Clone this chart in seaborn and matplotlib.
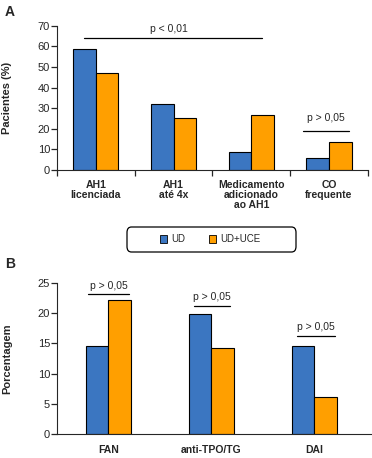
import matplotlib.pyplot as plt
from matplotlib.patches import FancyBboxPatch, Patch
import numpy as np
import pandas as pd
import seaborn as sns

# Dados painel A
cat_a = ['AH1\nlicenciada', 'AH1\naté 4x', 'Medicamento\nadicionado\nao AH1', 'CO\nfrequente']
ud_a = [59.0, 32.0, 8.5, 5.7]
uce_a = [47.0, 25.3, 26.7, 13.8]

# Dados painel B
cat_b = ['FAN', 'anti-TPO/TG', 'DAI']
ud_b = [14.6, 19.9, 14.6]
uce_b = [22.2, 14.3, 6.2]

grupos = ['UD', 'UD+UCE']
cores = {'UD': '#3b76c1', 'UD+UCE': '#ff9f00'}

sns.set_style('ticks')
plt.rcParams['font.family'] = ['Liberation Sans', 'DejaVu Sans']
plt.rcParams['font.size'] = 7


def long_df(cats, ud, uce):
    return pd.DataFrame({
        'cat': cats * 2,
        'grupo': ['UD'] * len(cats) + ['UD+UCE'] * len(cats),
        'valor': ud + uce,
    })


fig = plt.figure(figsize=(3.72, 4.58), dpi=100)
ax_a = fig.add_axes([0.153, 0.629, 0.836, 0.3144])
ax_b = fig.add_axes([0.153, 0.0524, 0.847, 0.3297])

# Painel A
sns.barplot(data=long_df(cat_a, ud_a, uce_a), x='cat', y='valor', hue='grupo', palette=cores,
            hue_order=grupos, width=0.58, saturation=1, edgecolor='black', linewidth=0.8,
            ax=ax_a, legend=False)
ax_a.set_xlim(-0.5, 3.5)
ax_a.set_ylim(0, 70)
ax_a.set_yticks(range(0, 71, 10))
ax_a.set_xticks(np.arange(-0.5, 3.6, 1), minor=True)
ax_a.tick_params(axis='x', which='major', length=0, pad=7)
ax_a.tick_params(axis='x', which='minor', length=4, width=0.9)
ax_a.tick_params(axis='y', length=4, width=0.9, pad=1, labelsize=8)
for lab in ax_a.get_xticklabels():
    lab.set_fontweight('bold')
    lab.set_linespacing(1.0)
    lab.set_fontsize(7.5)
ax_a.set_xlabel('')
ax_a.set_ylabel('Pacientes (%)', fontweight='bold', fontsize=8)
ax_a.yaxis.set_label_coords(-0.145, 0.5)
ax_a.spines[['top', 'right']].set_visible(False)
ax_a.spines['left'].set_bounds(0, 70)

ax_a.plot([-0.154, 2.14], [64.2, 64.2], color='black', lw=0.9, clip_on=False)
ax_a.text(0.936, 68.5, 'p < 0,01', ha='center', va='center', fontsize=7.5)
ax_a.plot([2.67, 3.26], [19, 19], color='black', lw=0.9, clip_on=False)
ax_a.text(2.96, 25.3, 'p > 0,05', ha='center', va='center', fontsize=7.5)

# Painel B
sns.barplot(data=long_df(cat_b, ud_b, uce_b), x='cat', y='valor', hue='grupo', palette=cores,
            hue_order=grupos, width=0.437, saturation=1, edgecolor='black', linewidth=0.8,
            ax=ax_b, legend=False)
ax_b.set_xlim(-0.5, 2.56)
ax_b.set_ylim(0, 25)
ax_b.set_yticks(range(0, 26, 5))
ax_b.tick_params(axis='x', length=0, pad=8)
ax_b.tick_params(axis='y', length=4, width=0.9, pad=1, labelsize=8)
for lab in ax_b.get_xticklabels():
    lab.set_fontweight('bold')
    lab.set_fontsize(7.5)
ax_b.set_xlabel('')
ax_b.set_ylabel('Porcentagem', fontweight='bold', fontsize=8)
ax_b.yaxis.set_label_coords(-0.143, 0.5)
ax_b.spines[['top', 'right']].set_visible(False)

p_b = [(-0.2, 0.2, 23.1, 24.5), (0.83, 1.18, 21.2, 22.6), (1.83, 2.2, 16.3, 17.7)]
for x0, x1, yl, yt in p_b:
    ax_b.plot([x0, x1], [yl, yl], color='black', lw=0.9, clip_on=False)
    ax_b.text((x0 + x1) / 2, yt, 'p > 0,05', ha='center', va='center', fontsize=7.5)

# Legenda
caixa = FancyBboxPatch((127 / 372, 1 - 252 / 458), 169 / 372, 25 / 458,
                       boxstyle='round,pad=0,rounding_size=0.012', transform=fig.transFigure,
                       facecolor='white', edgecolor='black', linewidth=0.9)
fig.patches.append(caixa)
handles = [Patch(facecolor=cores[g], edgecolor='black', linewidth=0.6) for g in grupos]
fig.legend(handles, grupos, loc='center', bbox_to_anchor=(210 / 372, 1 - 239.5 / 458), ncol=2,
           frameon=False, fontsize=7, handlelength=0.8, handleheight=0.8, handletextpad=0.4,
           columnspacing=2.4)

fig.text(0.013, 1 - 12 / 458, 'A', fontweight='bold', fontsize=10, va='center')
fig.text(0.013, 1 - 264 / 458, 'B', fontweight='bold', fontsize=10, va='center')

fig.savefig('out.png', dpi=100)
